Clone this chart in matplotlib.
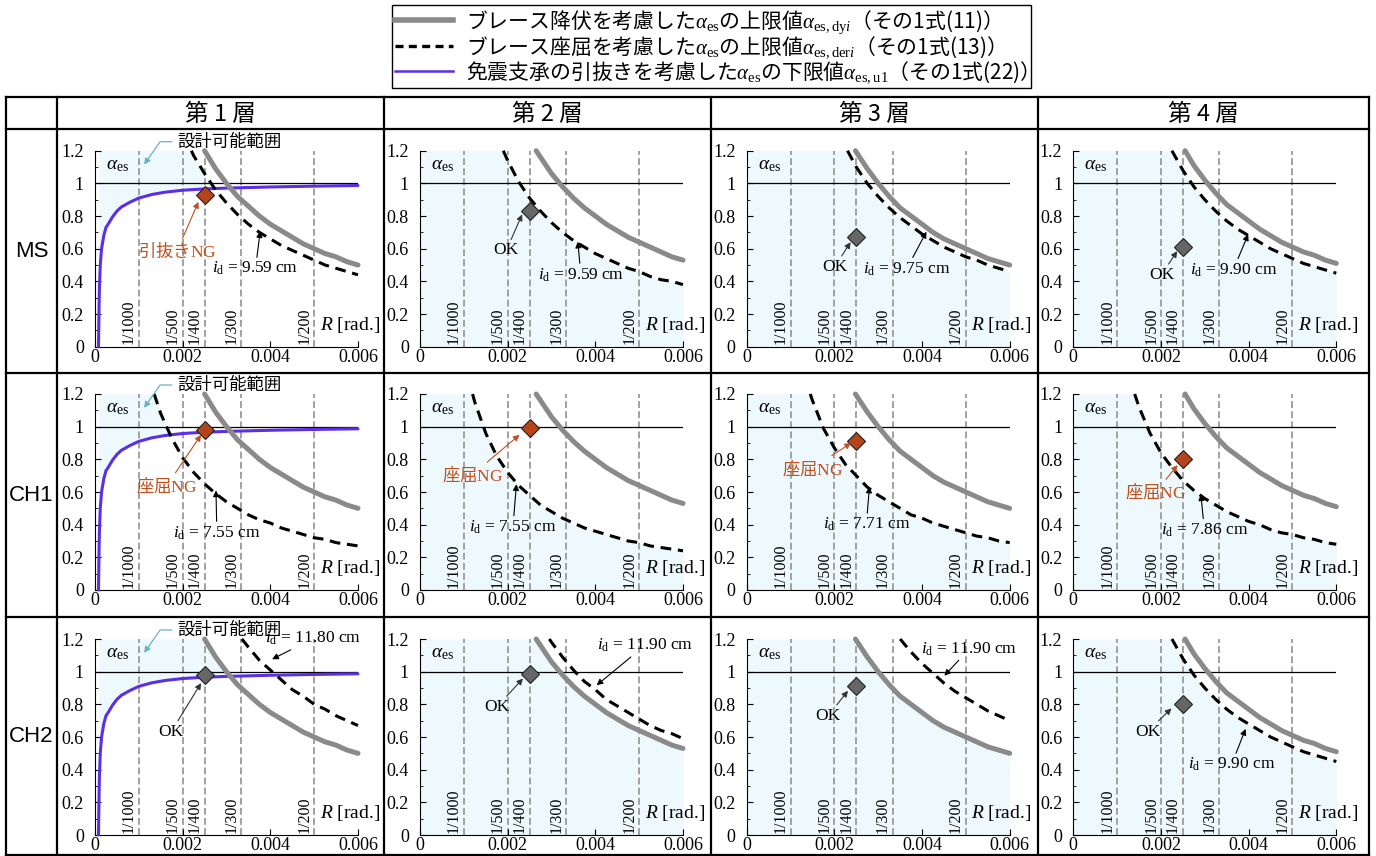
import matplotlib
matplotlib.use('Agg')
import matplotlib.pyplot as plt
from matplotlib.lines import Line2D
from matplotlib.ticker import MultipleLocator, FuncFormatter
import numpy as np

plt.rcParams['mathtext.fontset'] = 'custom'
plt.rcParams['mathtext.rm'] = 'Liberation Serif'
plt.rcParams['mathtext.it'] = 'Liberation Serif:italic'
plt.rcParams['mathtext.bf'] = 'Liberation Serif:bold'
plt.rcParams['font.family'] = ['Liberation Serif', 'DejaVu Sans']
JP = ['Noto Sans CJK JP', 'DejaVu Sans']

# ---- data -------------------------------------------------------------
STORIES = ['第 1 層', '第 2 層', '第 3 層', '第 4 層']
CASES = ['MS', 'CH1', 'CH2']
DRIFT_R = [0.001, 0.002, 0.0025, 0.00333, 0.005]
DRIFT_LABELS = ['1/1000', '1/500', '1/400', '1/300', '1/200']
R_GRID = [0.00100, 0.00125, 0.00150, 0.00175, 0.00200, 0.00225, 0.00250,
          0.00275, 0.00300, 0.00325, 0.00350, 0.00375, 0.00400, 0.00425,
          0.00450, 0.00475, 0.00500, 0.00525, 0.00550, 0.00575, 0.00600]

# upper limit from brace yield (first value at its start R, rest on R_GRID tail)
yield_start = [0.0025, 0.00265, 0.00248, 0.00255]
yield_vals = [
    [1.20, 1.09, 1.00, 0.92, 0.86, 0.80, 0.75, 0.71, 0.67, 0.63, 0.60, 0.57, 0.55, 0.52, 0.50],
    [1.20, 1.16, 1.06, 0.98, 0.91, 0.85, 0.80, 0.75, 0.71, 0.67, 0.64, 0.61, 0.58, 0.55, 0.53],
    [1.20, 1.09, 1.00, 0.92, 0.85, 0.80, 0.75, 0.70, 0.66, 0.63, 0.60, 0.57, 0.54, 0.52, 0.50],
    [1.20, 1.11, 1.02, 0.94, 0.87, 0.82, 0.77, 0.72, 0.68, 0.64, 0.61, 0.58, 0.56, 0.53, 0.51],
]

# upper limit from brace buckling
buck_ms_start = [0.0022, 0.0019, 0.0023, 0.00225]
buck_ms = [
    [1.20, 1.17, 1.06, 0.96, 0.88, 0.81, 0.75, 0.70, 0.66, 0.62, 0.59, 0.56, 0.53, 0.50, 0.48, 0.46, 0.44],
    [1.20, 1.14, 1.01, 0.91, 0.83, 0.76, 0.70, 0.65, 0.61, 0.57, 0.54, 0.51, 0.48, 0.46, 0.43, 0.41, 0.40, 0.38],
    [1.20, 1.10, 1.00, 0.92, 0.85, 0.79, 0.74, 0.69, 0.65, 0.61, 0.58, 0.55, 0.53, 0.50, 0.48, 0.46],
    [1.20, 1.08, 0.98, 0.90, 0.83, 0.77, 0.72, 0.68, 0.64, 0.60, 0.57, 0.54, 0.51, 0.49, 0.47, 0.45],
]
buck_ch1_start = [0.00135, 0.0012, 0.00145, 0.0014]
buck_ch1 = [
    [1.20, 1.08, 0.93, 0.81, 0.72, 0.65, 0.59, 0.54, 0.50, 0.46, 0.43, 0.41, 0.38, 0.36, 0.34, 0.32, 0.31, 0.29, 0.28, 0.27],
    [1.20, 1.15, 0.96, 0.82, 0.72, 0.64, 0.58, 0.52, 0.48, 0.44, 0.41, 0.38, 0.36, 0.34, 0.32, 0.30, 0.29, 0.27, 0.26, 0.25, 0.24],
    [1.20, 1.16, 0.99, 0.87, 0.77, 0.70, 0.63, 0.58, 0.54, 0.50, 0.46, 0.44, 0.41, 0.39, 0.37, 0.35, 0.33, 0.32, 0.30, 0.29],
    [1.20, 1.12, 0.96, 0.84, 0.75, 0.67, 0.61, 0.56, 0.52, 0.48, 0.45, 0.42, 0.40, 0.37, 0.35, 0.34, 0.32, 0.31, 0.29, 0.28],
]
buck_ch2_start = [0.00335, 0.00295, 0.0035, 0.00225]
buck_ch2 = [
    [1.20, 1.15, 1.07, 1.01, 0.95, 0.89, 0.85, 0.80, 0.77, 0.73, 0.70, 0.67],
    [1.20, 1.18, 1.09, 1.01, 0.94, 0.89, 0.83, 0.79, 0.75, 0.71, 0.67, 0.64, 0.62, 0.59],
    [1.20, 1.12, 1.05, 0.99, 0.93, 0.88, 0.84, 0.80, 0.76, 0.73, 0.70],
    [1.20, 1.08, 0.98, 0.90, 0.83, 0.77, 0.72, 0.68, 0.64, 0.60, 0.57, 0.54, 0.51, 0.49, 0.47, 0.45],
]

# lower limit from isolator uplift (story 1 only)
uplift_r = [0.00008, 0.00009, 0.0001, 0.00012, 0.00015, 0.0002, 0.00025, 0.0003,
            0.0004, 0.0005, 0.0006, 0.0007, 0.0008, 0.001, 0.0013, 0.0016, 0.002,
            0.0025, 0.003, 0.004, 0.005, 0.006]
uplift_a = [0.0, 0.2, 0.35, 0.5, 0.6, 0.68, 0.73, 0.75, 0.795, 0.83, 0.855, 0.87,
            0.885, 0.91, 0.932, 0.946, 0.958, 0.966, 0.971, 0.978, 0.983, 0.987]

DESIGN_R = 0.0025
design_ms = [0.93, 0.83, 0.67, 0.61]
design_ch1 = [0.98, 0.99, 0.91, 0.80]
design_ch2 = [0.98, 0.985, 0.91, 0.80]
verdict_ms = ['引抜きNG', 'OK', 'OK', 'OK']
verdict_ch1 = ['座屈NG', '座屈NG', '座屈NG', '座屈NG']
verdict_ch2 = ['OK', 'OK', 'OK', 'OK']
id_ms = ['9.59', '9.59', '9.75', '9.90']
id_ch1 = ['7.55', '7.55', '7.71', '7.86']
id_ch2 = ['11.80', '11.90', '11.90', '9.90']

buck_start = [buck_ms_start, buck_ch1_start, buck_ch2_start]
buck_vals = [buck_ms, buck_ch1, buck_ch2]
design = [design_ms, design_ch1, design_ch2]
verdict = [verdict_ms, verdict_ch1, verdict_ch2]
id_text = [id_ms, id_ch1, id_ch2]

# ---- annotation layout (text position, arrow tip) ---------------------
VERDICT_POS = {
    (0, 0): ((0.00187, 0.585), (0.00236, 0.887)),
    (0, 1): ((0.00197, 0.59), (0.00233, 0.81)),
    (0, 2): ((0.00201, 0.49), (0.00237, 0.64)),
    (0, 3): ((0.00201, 0.44), (0.00237, 0.585)),
    (1, 0): ((0.00164, 0.64), (0.00242, 0.95)),
    (1, 1): ((0.00119, 0.705), (0.00227, 0.95)),
    (1, 2): ((0.0015, 0.745), (0.00238, 0.90)),
    (1, 3): ((0.00188, 0.60), (0.00238, 0.765)),
    (2, 0): ((0.00174, 0.633), (0.00242, 0.93)),
    (2, 1): ((0.00175, 0.784), (0.00235, 0.958)),
    (2, 2): ((0.00186, 0.73), (0.00231, 0.883)),
    (2, 3): ((0.00169, 0.633), (0.00224, 0.775)),
}
ID_POS = {
    (0, 0): ((0.00366, 0.477), (0.00377, 0.707)),
    (0, 1): ((0.00367, 0.44), (0.0036, 0.643)),
    (0, 2): ((0.00365, 0.476), (0.0041, 0.704)),
    (0, 3): ((0.00365, 0.47), (0.00399, 0.688)),
    (1, 0): ((0.00278, 0.35), (0.00276, 0.61)),
    (1, 1): ((0.00212, 0.384), (0.0022, 0.648)),
    (1, 2): ((0.00273, 0.40), (0.0028, 0.633)),
    (1, 3): ((0.00299, 0.367), (0.00291, 0.586)),
    (2, 0): ((0.00498, 1.204), (0.00404, 1.076)),
    (2, 1): ((0.00513, 1.16), (0.00403, 0.917)),
    (2, 2): ((0.00508, 1.14), (0.00451, 0.975)),
    (2, 3): ((0.00361, 0.43), (0.00393, 0.65)),
}

GREY = '#8a8a8a'
BLUE = '#5a2fe6'
RED = '#c0501e'
RED_FILL = '#b3441b'
SHADE = '#edf9fc'
TEAL = '#6db2c3'

W, H = 1376, 856
fig = plt.figure(figsize=(W / 100, H / 100), dpi=100)

# table frame
tab = fig.add_axes([0, 0, 1, 1], zorder=-5)
tab.set_xlim(0, W)
tab.set_ylim(H, 0)
tab.axis('off')
col_edges = [6, 57, 384, 711, 1038, 1369]
row_edges = [97, 129, 373, 617, 855]
for x in col_edges:
    tab.plot([x, x], [row_edges[0], row_edges[-1]], color='k', lw=1.6)
for y in row_edges:
    tab.plot([col_edges[0], col_edges[-1]], [y, y], color='k', lw=1.6)
for j, s in enumerate(STORIES):
    tab.text((col_edges[j + 1] + col_edges[j + 2]) / 2, 114, s, ha='center',
             va='center', fontsize=17, family=JP)
for i, c in enumerate(CASES):
    tab.text((col_edges[0] + col_edges[1]) / 2, (row_edges[i + 1] + row_edges[i + 2]) / 2,
             c, ha='center', va='center', fontsize=16, family='Liberation Sans')

ax_left = [95, 420, 746.7, 1073.3]
ax_bottom = [346.7, 590, 835]
ax_w, ax_h = 263, 196


def curve_r(r0, vals):
    return [r0] + R_GRID[len(R_GRID) - (len(vals) - 1):]


fmt = FuncFormatter(lambda v, p: f'{v:g}')
xs = np.linspace(0, 0.006, 1500)

for i in range(3):
    for j in range(4):
        ax = fig.add_axes([ax_left[j] / W, 1 - ax_bottom[i] / H, ax_w / W, ax_h / H])
        ax.set_xlim(0, 0.006)
        ax.set_ylim(0, 1.2)
        for sp in ('top', 'right'):
            ax.spines[sp].set_visible(False)
        ax.xaxis.set_major_locator(MultipleLocator(0.002))
        ax.yaxis.set_major_locator(MultipleLocator(0.2))
        ax.yaxis.set_minor_locator(MultipleLocator(0.1))
        ax.xaxis.set_major_formatter(fmt)
        ax.yaxis.set_major_formatter(fmt)
        ax.tick_params(direction='in', length=4, labelsize=13)
        ax.tick_params(axis='x', pad=1.5)
        ax.tick_params(axis='y', pad=8)
        ax.tick_params(which='minor', direction='in', length=2.5)

        yr = curve_r(yield_start[j], yield_vals[j])
        ya = yield_vals[j]
        br = curve_r(buck_start[i][j], buck_vals[i][j])
        ba = buck_vals[i][j]

        # feasible region
        upper = np.minimum(np.interp(xs, yr, ya, left=np.inf),
                           np.interp(xs, br, ba, left=np.inf))
        upper = np.minimum(upper, 1.2)
        if j == 0:
            lower = np.interp(xs, uplift_r, uplift_a)
            ok = (upper > lower) & (xs >= uplift_r[0])
        else:
            lower = np.zeros_like(xs)
            ok = upper > lower
        ax.fill_between(xs, lower, upper, where=ok, color=SHADE, lw=0, zorder=0)

        for r, lab in zip(DRIFT_R, DRIFT_LABELS):
            ax.axvline(r, color='#9a9a9a', lw=1.3, dashes=(3.8, 1.8), zorder=1)
            ax.text(r - 0.00004, 0.015, lab, rotation=90, ha='right', va='bottom',
                    fontsize=11.5, zorder=2)
        ax.axhline(1.0, color='k', lw=0.9, zorder=2)

        if j == 0:
            ax.plot(uplift_r, uplift_a, color=BLUE, lw=2.2, zorder=3,
                    solid_capstyle='round', clip_on=False)
        ax.plot(yr, ya, color=GREY, lw=3.6, solid_capstyle='round', zorder=3,
                clip_on=False)
        ax.plot(br, ba, color='k', lw=2.2, dashes=(3.5, 2.2), zorder=4, clip_on=False)

        ng = 'NG' in verdict[i][j]
        ax.plot([DESIGN_R], [design[i][j]], marker='D', ms=9.5, ls='none',
                mfc=RED_FILL if ng else '#666666', mec='#222222', mew=0.8, zorder=6)

        ax.text(0.00025, 1.11, r'$\alpha_{\mathrm{es}}$', fontsize=14, va='center')
        ax.text(0.0065, 0.135, r'$R$ [rad.]', fontsize=14, ha='right', va='center',
                clip_on=False)

        (tx, ty), (hx, hy) = VERDICT_POS[(i, j)]
        vtxt = verdict[i][j].replace('NG', r'$\mathrm{NG}$')
        ax.annotate(vtxt, xy=(hx, hy), xytext=(tx, ty), ha='center', va='center',
                    fontsize=12.5, color=RED if ng else 'k',
                    family=JP if ng else ['Liberation Serif'],
                    arrowprops=dict(arrowstyle='-|>', color=RED if ng else '#333333',
                                    lw=0.8, mutation_scale=9, shrinkA=0, shrinkB=0),
                    zorder=7)

        (tx, ty), (hx, hy) = ID_POS[(i, j)]
        ax.annotate(r'$i_{\mathrm{d}}$ = ' + id_text[i][j] + ' cm', xy=(hx, hy),
                    xytext=(tx, ty), ha='center', va='center', fontsize=12.5,
                    arrowprops=dict(arrowstyle='-|>', color='k', lw=0.8,
                                    mutation_scale=9, shrinkA=0, shrinkB=0),
                    annotation_clip=False, zorder=7)

        if j == 0:
            ax.annotate('設計可能範囲', xy=(0.00112, 1.115), xytext=(0.00307, 1.255),
                        ha='center', va='center', fontsize=12.5, family=JP,
                        arrowprops=dict(arrowstyle='-|>', color=TEAL, lw=0.9,
                                        mutation_scale=9, shrinkA=2, shrinkB=0,
                                        connectionstyle='angle,angleA=0,angleB=55,rad=0'),
                        annotation_clip=False, zorder=7)

handles = [Line2D([], [], color=GREY, lw=4.0),
           Line2D([], [], color='k', lw=2.4, dashes=(2.4, 1.6)),
           Line2D([], [], color=BLUE, lw=1.8)]
labels = ['ブレース降伏を考慮した$\\alpha_{\\mathrm{es}}$の上限値$\\alpha_{\\mathrm{es,dy}i}$（その1式(11)）',
          'ブレース座屈を考慮した$\\alpha_{\\mathrm{es}}$の上限値$\\alpha_{\\mathrm{es,der}i}$（その1式(13)）',
          '免震支承の引抜きを考慮した$\\alpha_{\\mathrm{es}}$の下限値$\\alpha_{\\mathrm{es,u1}}$（その1式(22)）']
leg = fig.legend(handles, labels, loc='upper center', bbox_to_anchor=(711.5 / W, 1 - 5 / H),
                 frameon=True, fancybox=False, framealpha=1, edgecolor='k',
                 borderpad=0.15, labelspacing=-0.06, handlelength=2.8, handletextpad=0.6,
                 borderaxespad=0, prop={'family': JP, 'size': 15})
leg.get_frame().set_linewidth(1.0)

fig.savefig('out.png', dpi=100)
